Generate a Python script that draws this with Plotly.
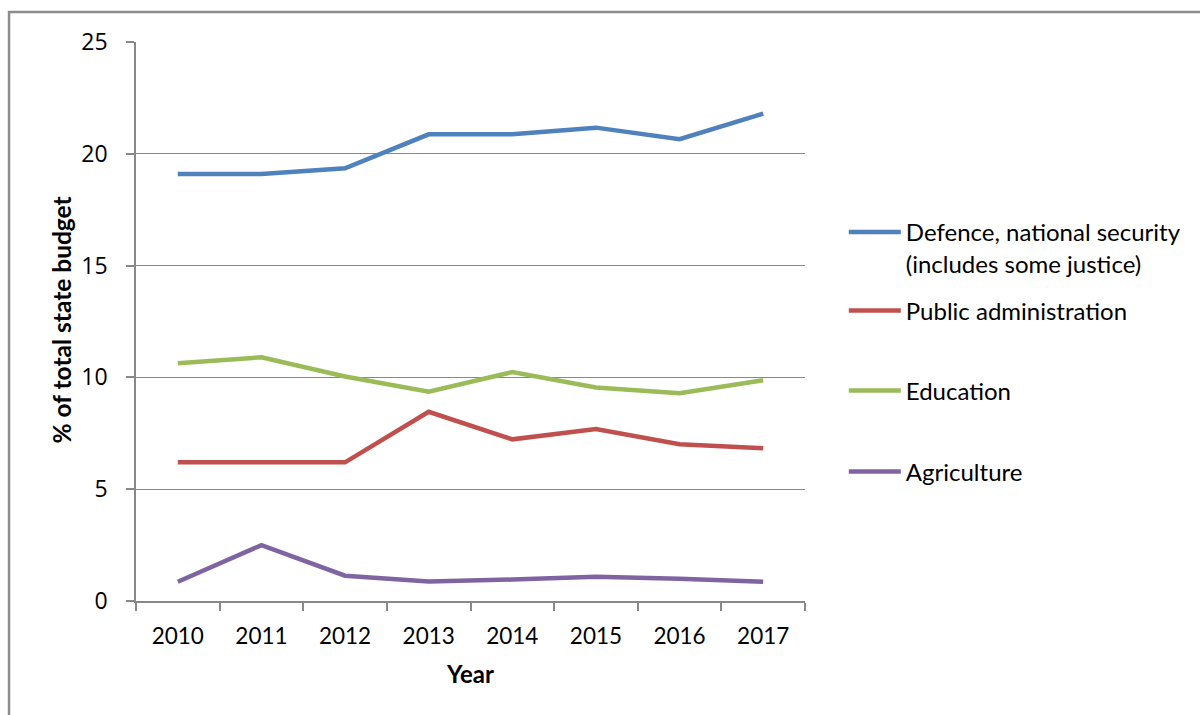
import plotly.graph_objects as go

years = ["2010", "2011", "2012", "2013", "2014", "2015", "2016", "2017"]
defence = [19.1, 19.1, 19.35, 20.87, 20.87, 21.17, 20.65, 21.8]
public_admin = [6.2, 6.2, 6.2, 8.46, 7.23, 7.69, 7.01, 6.83]
education = [10.63, 10.9, 10.04, 9.36, 10.24, 9.55, 9.29, 9.87]
agriculture = [0.86, 2.5, 1.13, 0.87, 0.96, 1.09, 0.99, 0.86]

series = [
    ("Defence, national security<br>(includes some justice)", defence, "#4F81BD"),
    ("Public administration", public_admin, "#C0504D"),
    ("Education", education, "#9BBB59"),
    ("Agriculture", agriculture, "#8064A2"),
]
legend_ids = ["legend", "legend2", "legend3", "legend4"]
legend_y = [0.6315, 0.5188, 0.3757, 0.2308]

fig = go.Figure()
for i, (name, vals, col) in enumerate(series):
    fig.add_trace(go.Scatter(
        x=years, y=vals, name=name, mode="lines",
        line=dict(color=col, width=4.5),
        legend=legend_ids[i],
    ))

grid = "#888888"
leg_font = dict(family="Lato", size=24, color="black")
legends = {}
for lid, ly in zip(legend_ids, legend_y):
    legends[lid] = dict(
        x=1.058, y=ly, xanchor="left", yanchor="middle", valign="top",
        font=leg_font, itemwidth=52, bgcolor="rgba(0,0,0,0)",
    )

fig.update_layout(
    width=1200, height=715,
    margin=dict(l=136, r=395, t=42, b=114),
    paper_bgcolor="white", plot_bgcolor="white",
    font=dict(family="Lato", size=20, color="black"),
    showlegend=True,
    **legends,
    xaxis=dict(
        type="category", showgrid=False, showline=True, linecolor=grid, linewidth=1.5,
        ticks="outside", tickson="boundaries", ticklen=8, tickcolor=grid, tickwidth=1.5,
        tickfont=dict(family="Lato", size=22.5), ticklabelstandoff=14,
        title=dict(text="<b>Year</b>", font=dict(family="Lato", size=24), standoff=18),
        range=[-0.5, 7.5],
    ),
    yaxis=dict(
        range=[0, 25], dtick=5, showgrid=True, gridcolor=grid, gridwidth=1.2,
        showline=True, linecolor=grid, linewidth=1.5, zeroline=False,
        ticks="outside", ticklen=8, tickcolor=grid, tickwidth=1.5,
        tickfont=dict(family="Open Sans", size=23), ticklabelstandoff=14,
    ),
    annotations=[dict(
        text="<b>% of total state budget</b>", textangle=-90,
        xref="paper", yref="paper", x=-0.1099, y=0.5027,
        xanchor="center", yanchor="middle", showarrow=False,
        font=dict(family="Lato", size=24.5, color="black"),
    )],
    shapes=[dict(
        type="rect", xref="paper", yref="paper",
        x0=-0.1898, x1=1.8, y0=-0.5, y1=1.0537,
        line=dict(color="#8C8C8C", width=2.5), fillcolor="rgba(0,0,0,0)", layer="below",
    )],
)

fig.write_html("out.html")
